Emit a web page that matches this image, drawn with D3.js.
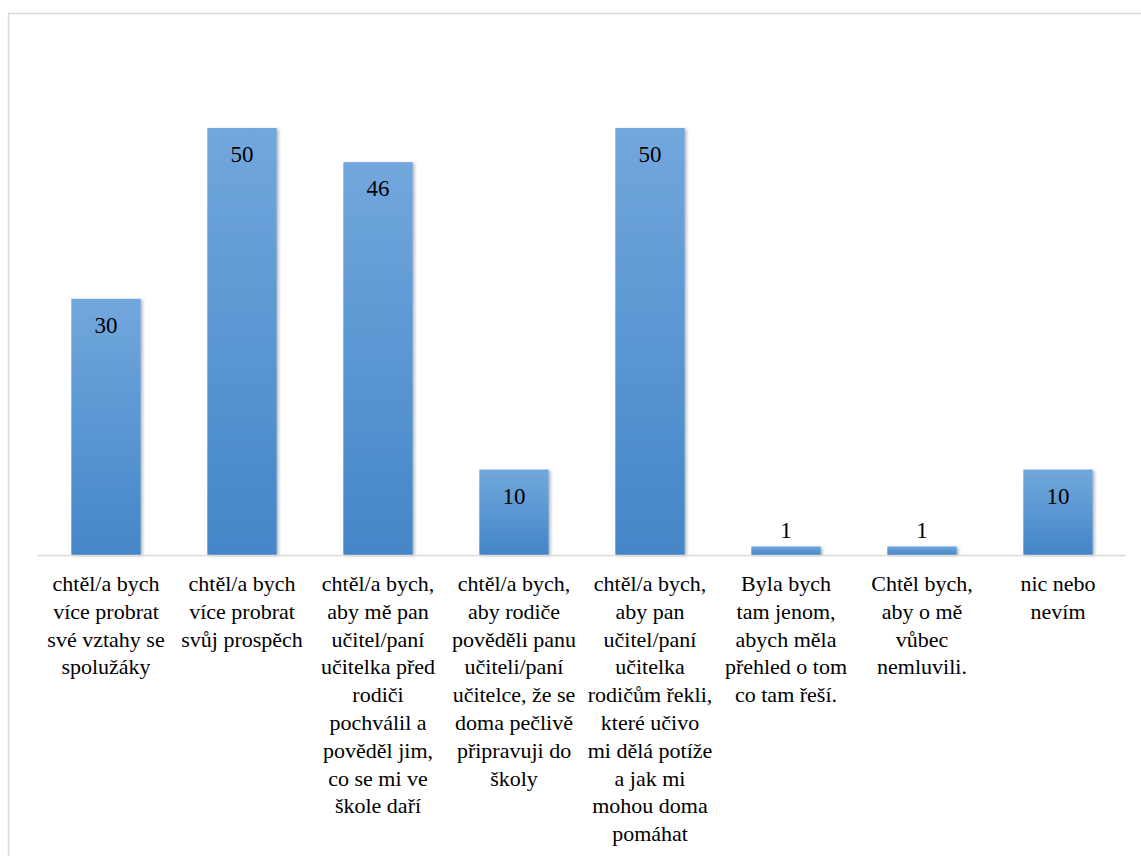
<!DOCTYPE html>
<html>
<head>
<meta charset="utf-8">
<title>Chart</title>
<script src="https://cdn.jsdelivr.net/npm/d3@7"></script>
<style>
  body { margin: 0; }
  svg, svg text, svg tspan { font-family: Tinos, "Times New Roman", "Liberation Serif", FreeSerif, serif; }
</style>
</head>
<body>
<script>
// categories (wrapped as in the original)
var categoryLines = [
  ["chtěl/a bych", "více probrat", "své vztahy se", "spolužáky"],
  ["chtěl/a bych", "více probrat", "svůj prospěch"],
  ["chtěl/a bych,", "aby mě pan", "učitel/paní", "učitelka před", "rodiči", "pochválil a", "pověděl jim,", "co se mi ve", "škole daří"],
  ["chtěl/a bych,", "aby rodiče", "pověděli panu", "učiteli/paní", "učitelce, že se", "doma pečlivě", "připravuji do", "školy"],
  ["chtěl/a bych,", "aby pan", "učitel/paní", "učitelka", "rodičům řekli,", "které učivo", "mi dělá potíže", "a jak mi", "mohou doma", "pomáhat"],
  ["Byla bych", "tam jenom,", "abych měla", "přehled o tom", "co tam řeší."],
  ["Chtěl bych,", "aby o mě", "vůbec", "nemluvili."],
  ["nic nebo", "nevím"]
];
var values = [30, 50, 46, 10, 50, 1, 1, 10];

var W = 1141, H = 856;
var left = 38, right = 1126, baseY = 555, topY = 128;

var svg = d3.select("body").append("svg")
  .attr("width", W).attr("height", H)
  .attr("font-family", "Tinos, 'Times New Roman', 'Liberation Serif', serif");

var defs = svg.append("defs");
var grad = defs.append("linearGradient")
  .attr("id", "barGrad")
  .attr("x1", 0).attr("y1", 0).attr("x2", 0).attr("y2", 1);
grad.append("stop").attr("offset", "0%").attr("stop-color", "#72a7dd");
grad.append("stop").attr("offset", "100%").attr("stop-color", "#4386c8");

var shadow = defs.append("filter").attr("id", "shadow")
  .attr("x", "-20%").attr("y", "-20%").attr("width", "150%").attr("height", "140%");
shadow.append("feDropShadow")
  .attr("dx", 2).attr("dy", 1).attr("stdDeviation", 1.5)
  .attr("flood-color", "#000").attr("flood-opacity", 0.28);

// outer border
svg.append("rect")
  .attr("x", 8.5).attr("y", 13.5)
  .attr("width", 1160).attr("height", 900)
  .attr("fill", "none").attr("stroke", "#d9d9d9").attr("stroke-width", 1.5);

var idx = d3.range(values.length);
var x = d3.scaleBand().domain(idx).range([left, right])
  .paddingInner(0.49).paddingOuter(0.245);
var y = d3.scaleLinear().domain([0, 50]).range([baseY, topY]);

svg.selectAll("rect.bar")
  .data(idx)
  .enter().append("rect")
  .attr("class", "bar")
  .attr("x", function(i) { return x(i); })
  .attr("y", function(i) { return y(values[i]); })
  .attr("width", x.bandwidth())
  .attr("height", function(i) { return baseY - y(values[i]); })
  .attr("fill", "url(#barGrad)")
  .attr("filter", "url(#shadow)");

// axis line
svg.append("line")
  .attr("x1", left).attr("x2", right)
  .attr("y1", baseY + 0.5).attr("y2", baseY + 0.5)
  .attr("stroke", "#d9d9d9").attr("stroke-width", 1.5);

// value labels
svg.selectAll("text.val")
  .data(idx)
  .enter().append("text")
  .attr("class", "val")
  .attr("x", function(i) { return x(i) + x.bandwidth() / 2; })
  .attr("y", function(i) {
    var h = baseY - y(values[i]);
    return h > 40 ? y(values[i]) + 34 : y(values[i]) - 8;
  })
  .attr("text-anchor", "middle")
  .attr("font-size", 23)
  .attr("fill", "#000")
  .text(function(i) { return values[i]; });

// category labels
var cat = svg.selectAll("text.cat")
  .data(idx)
  .enter().append("text")
  .attr("class", "cat")
  .attr("text-anchor", "middle")
  .attr("font-size", 22)
  .attr("fill", "#000")
  .attr("transform", function(i) {
    return "translate(" + (x(i) + x.bandwidth() / 2) + "," + 591 + ")";
  });
cat.selectAll("tspan")
  .data(function(i) { return categoryLines[i]; })
  .enter().append("tspan")
  .attr("x", 0)
  .attr("y", function(d, j) { return j * 27.8; })
  .text(function(d) { return d; });
</script>
</body>
</html>
